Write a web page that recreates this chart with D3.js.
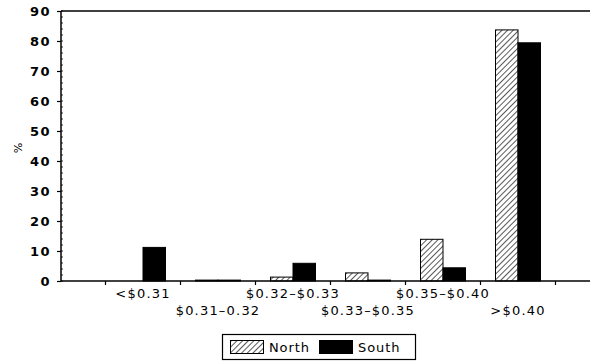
<!DOCTYPE html>
<html><head><meta charset="utf-8">
<script src="https://cdn.jsdelivr.net/npm/d3@7"></script>
<style>body{margin:0;background:#fff}svg{display:block}text{font-family:"DejaVu Sans",sans-serif;fill:#000}</style>
</head><body>
<svg id="c" width="590" height="361"></svg>
<script>
const categories = ["<$0.31","$0.31\u20130.32","$0.32\u2013$0.33","$0.33\u2013$0.35","$0.35\u2013$0.40",">$0.40"];
const seriesNames = ["North","South"];
const northValues = [0, 0.3, 1.3, 2.7, 13.9, 83.7];
const southValues = [11.2, 0.3, 5.9, 0.3, 4.4, 79.4];
const yTicks = [0,10,20,30,40,50,60,70,80,90];

(function(){
const svg = d3.select("#c");
const defs = svg.append("defs");
const pat = defs.append("pattern").attr("id","hatch").attr("patternUnits","userSpaceOnUse")
  .attr("width",4).attr("height",4).attr("patternTransform","rotate(45)");
pat.append("rect").attr("width",4).attr("height",4).attr("fill","#fff");
pat.append("line").attr("x1",0).attr("y1",0).attr("x2",0).attr("y2",4).attr("stroke","#000").attr("stroke-width",1.3);

const pL = 61, pR = 590, pT = 11, pB = 281;
const y = d3.scaleLinear().domain([0,90]).range([pB, pT]);
const x = d3.scaleBand().domain(categories).range([105.5, 555.5]).paddingInner(0).paddingOuter(0);
const bw = 22.5;
const xs = d3.scaleBand().domain(seriesNames).range([x.bandwidth()/2 - bw, x.bandwidth()/2 + bw]);

svg.append("line").attr("x1",pL).attr("x2",pR).attr("y1",pT).attr("y2",pT).attr("stroke","#000").attr("stroke-width",1.5);
svg.append("line").attr("x1",pL).attr("x2",pL).attr("y1",pT).attr("y2",pB).attr("stroke","#000").attr("stroke-width",1.5);

const yAxis = d3.axisLeft(y).tickValues(yTicks).tickSize(4).tickPadding(6);
const gy = svg.append("g").attr("transform",`translate(${pL},0)`).call(yAxis);
gy.select(".domain").remove();
gy.selectAll("line").attr("stroke","#000").attr("stroke-width",1.2);
gy.selectAll("text").style("font-family","'DejaVu Sans',sans-serif").style("font-size","13px").style("font-weight","bold").style("letter-spacing","1.5px");
const minor = d3.range(0,90.1,2);
svg.append("g").selectAll("line").data(minor).join("line")
  .attr("x1",pL).attr("x2",pL+2).attr("y1",d=>y(d)).attr("y2",d=>y(d)).attr("stroke","#000").attr("stroke-width",0.8);

const rows = categories.map((c,i)=>({cat:c, vals:[{k:"North",v:northValues[i]},{k:"South",v:southValues[i]}]}));
const g = svg.append("g");
const grp = g.selectAll("g").data(rows).join("g").attr("transform",d=>`translate(${x(d.cat)},0)`);
grp.selectAll("rect").data(d=>d.vals).join("rect")
  .attr("x",d=>xs(d.k)).attr("width",xs.bandwidth())
  .attr("y",d=>y(d.v)).attr("height",d=>pB - y(d.v))
  .attr("fill",d=>d.k==="North"?"url(#hatch)":"#000")
  .attr("stroke","#000").attr("stroke-width",1);

svg.append("line").attr("x1",pL).attr("x2",pR).attr("y1",pB).attr("y2",pB).attr("stroke","#000").attr("stroke-width",1.5);
const bounds = categories.map(c=>x(c)).concat([x(categories[categories.length-1])+x.bandwidth()]);
svg.append("g").selectAll("line").data(bounds).join("line")
  .attr("x1",d=>d).attr("x2",d=>d).attr("y1",pB).attr("y2",pB+4).attr("stroke","#000").attr("stroke-width",1.2);
svg.append("g").selectAll("text").data(categories).join("text")
  .attr("x",d=>x(d)+x.bandwidth()/2).attr("y",(d,i)=> i%2===0 ? 298 : 315)
  .attr("text-anchor","middle").style("font-size","13px").style("letter-spacing","1.2px").text(d=>d);

svg.append("text").attr("transform","translate(14,148) rotate(90)").attr("text-anchor","middle")
  .style("font-size","11px").text("%");

const lg = svg.append("g");
lg.append("rect").attr("x",222.5).attr("y",334.5).attr("width",193).attr("height",25).attr("fill","#fff").attr("stroke","#000").attr("stroke-width",1.2);
const items = [{k:"North",x:230,tx:269},{k:"South",x:319,tx:358}];
lg.selectAll(".sw").data(items).join("rect").attr("class","sw")
  .attr("x",d=>d.x+0.5).attr("y",340.5).attr("width",33).attr("height",13)
  .attr("fill",d=>d.k==="North"?"url(#hatch)":"#000").attr("stroke","#000");
lg.selectAll(".lt").data(items).join("text").attr("class","lt")
  .attr("x",d=>d.tx).attr("y",352).style("font-size","13px").style("letter-spacing","0.9px").text(d=>d.k);
})();
</script>
</body></html>
